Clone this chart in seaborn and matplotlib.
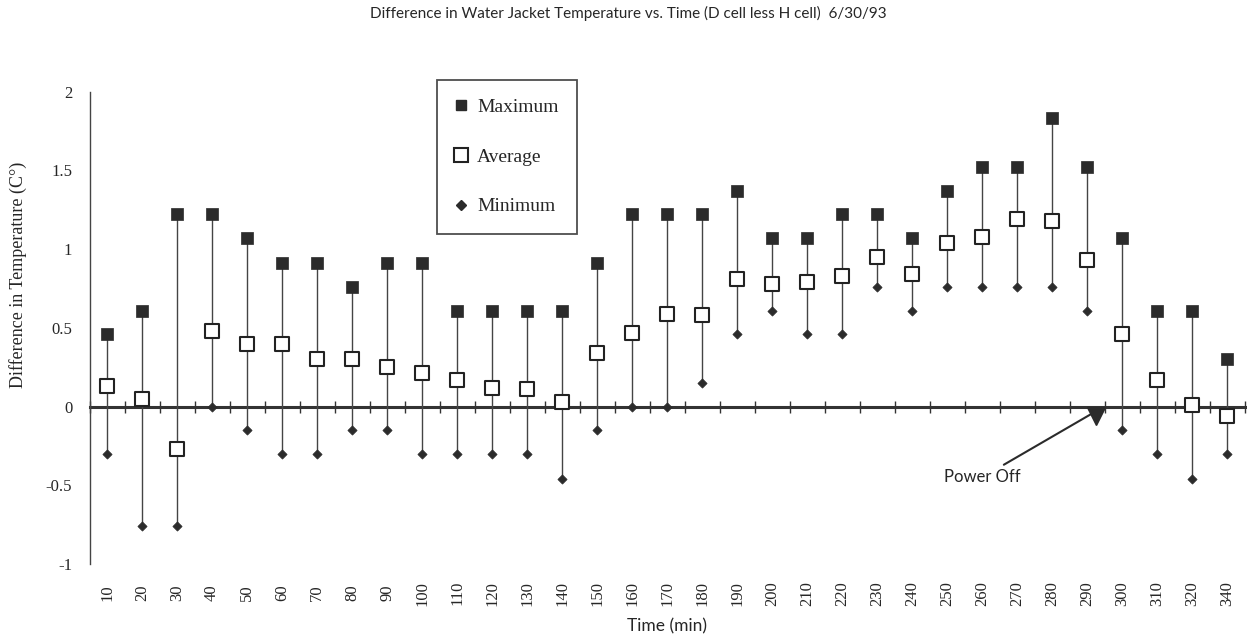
# Difference in Water Jacket Temperature vs. Time (D cell less H cell) 6/30/93

import numpy as np
import pandas as pd
import matplotlib
matplotlib.use("Agg")
import matplotlib.pyplot as plt
import seaborn as sns
from matplotlib.lines import Line2D
from matplotlib.ticker import FuncFormatter


# Data (deg C)

times = [10, 20, 30, 40, 50, 60, 70, 80, 90, 100, 110, 120, 130, 140, 150, 160,
         170, 180, 190, 200, 210, 220, 230, 240, 250, 260, 270, 280, 290, 300,
         310, 320, 340]

maximum = [0.46, 0.61, 1.22, 1.22, 1.07, 0.91, 0.91, 0.76, 0.91, 0.91, 0.61,
           0.61, 0.61, 0.61, 0.91, 1.22, 1.22, 1.22, 1.37, 1.07, 1.07, 1.22,
           1.22, 1.07, 1.37, 1.52, 1.52, 1.83, 1.52, 1.07, 0.61, 0.61, 0.30]

average = [0.13, 0.05, -0.27, 0.48, 0.40, 0.40, 0.30, 0.30, 0.25, 0.21, 0.17,
           0.12, 0.11, 0.03, 0.34, 0.47, 0.59, 0.58, 0.81, 0.78, 0.79, 0.83,
           0.95, 0.84, 1.04, 1.08, 1.19, 1.18, 0.93, 0.46, 0.17, 0.01, -0.06]

minimum = [-0.30, -0.76, -0.76, 0.0, -0.15, -0.30, -0.30, -0.15, -0.15, -0.30,
           -0.30, -0.30, -0.30, -0.46, -0.15, 0.0, 0.0, 0.15, 0.46, 0.61, 0.46,
           0.46, 0.76, 0.61, 0.76, 0.76, 0.76, 0.76, 0.61, -0.15, -0.30, -0.46,
           -0.30]

y_ticks = [-1, -0.5, 0, 0.5, 1, 1.5, 2]

power_off_time = 292.5

df = pd.DataFrame({
    "Time": [str(t) for t in times],
    "Maximum": maximum,
    "Average": average,
    "Minimum": minimum,
})
df["pos"] = np.arange(len(df))

# category position of the power-off moment
i290 = times.index(290)
power_off_pos = i290 + (power_off_time - 290) / 10


# Plot

sns.set_style("white")
serif = ["Liberation Serif", "DejaVu Serif"]
sans = ["Lato", "DejaVu Sans"]
plt.rcParams["font.family"] = serif

fig = plt.figure(figsize=(12.47, 6.38), dpi=100)
ax = fig.add_axes([0.0718, 0.116, 0.9262, 0.7403])

dark = "#2b2b2b"

# high-low lines
ax.vlines(df["pos"], df["Minimum"], df["Maximum"], color="#444444", lw=1.0, zorder=2)

sns.scatterplot(data=df, x="pos", y="Maximum", marker="s", s=64, color=dark,
                edgecolor=dark, linewidth=0.5, ax=ax, zorder=4, legend=False)
sns.scatterplot(data=df, x="pos", y="Minimum", marker="D", s=22, color=dark,
                edgecolor=dark, linewidth=0.5, ax=ax, zorder=4, legend=False)
sns.scatterplot(data=df, x="pos", y="Average", marker="s", s=110, color="white",
                edgecolor="#222222", linewidth=1.5, ax=ax, zorder=5, legend=False)

n = len(df)
ax.set_xlim(-0.5, n - 0.5)
ax.set_ylim(-1, 2)

# zero line with category boundary ticks
secax = ax.secondary_xaxis(0, transform=ax.transData)
secax.set_xticks(np.arange(n + 1) - 0.5)
secax.tick_params(axis="x", direction="inout", length=9, width=1,
                  color="#333333", labelbottom=False)
secax.spines["bottom"].set_linewidth(2.2)
secax.spines["bottom"].set_color("#333333")

# category labels at the bottom
ax.set_xticks(df["pos"])
ax.set_xticklabels(df["Time"], rotation=90, va="center", fontsize=12)
ax.tick_params(axis="x", length=0, pad=21)

ax.set_yticks(y_ticks)
ax.yaxis.set_major_formatter(FuncFormatter(lambda v, p: f"{v:g}"))
ax.tick_params(axis="y", direction="inout", length=9, width=1,
               color="#444444", labelsize=12, pad=8)

for side in ["top", "right", "bottom"]:
    ax.spines[side].set_visible(False)
ax.spines["left"].set_color("#444444")
ax.spines["left"].set_linewidth(1.0)

ax.set_xlabel("Time (min)", fontsize=12.5, family=sans, va="center")
ax.xaxis.set_label_coords(0.5, -0.133)
ax.set_ylabel("Difference in Temperature (C\u00b0)", fontsize=13, va="center")
ax.yaxis.set_label_coords(-0.062, 0.612)

fig.text(0.504, 1 - 13 / 638, "Difference in Water Jacket Temperature vs. Time "
         "(D cell less H cell)  6/30/93", ha="center", va="center",
         fontsize=11, family=sans)

# power off marker and note
ax.plot([power_off_pos], [-0.06], marker="v", ms=13, color=dark, zorder=6)
ax.annotate("Power Off", xy=(power_off_pos - 0.15, -0.05),
            xytext=(power_off_pos - 3.25, -0.45), fontsize=12, family=sans,
            ha="center", va="center",
            arrowprops=dict(arrowstyle="-", lw=1.5, color=dark, shrinkA=2, shrinkB=0))

# legend
handles = [
    Line2D([], [], ls="none", marker="s", ms=7, color=dark, label="Maximum"),
    Line2D([], [], ls="none", marker="s", ms=10, mfc="white", mec="#222222",
           mew=1.5, label="Average"),
    Line2D([], [], ls="none", marker="D", ms=5, color=dark, label="Minimum"),
]
leg = ax.legend(handles=handles, loc="upper left", bbox_to_anchor=(0.301, 1.025),
                borderaxespad=0, fontsize=14, labelspacing=1.65, handlelength=0.6,
                handletextpad=0.5, borderpad=0.95, frameon=True, fancybox=False)
leg.get_frame().set_edgecolor("#222222")
leg.get_frame().set_linewidth(1.3)

fig.savefig("out.png", dpi=100)
